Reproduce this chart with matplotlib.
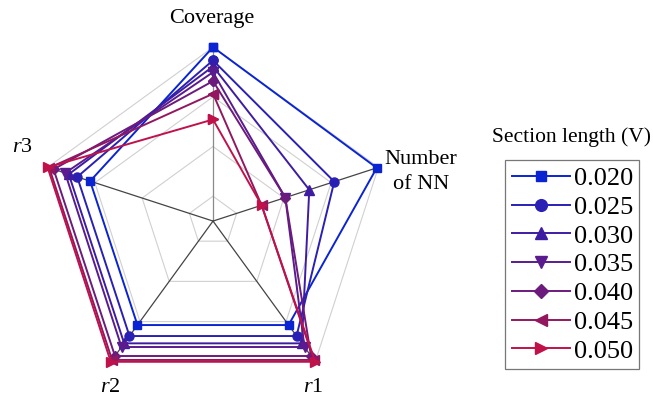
import numpy as np
import matplotlib
matplotlib.use('Agg')
import matplotlib.pyplot as plt

plt.rcParams['font.family'] = 'Liberation Serif'
plt.rcParams['mathtext.fontset'] = 'custom'
plt.rcParams['mathtext.it'] = 'Liberation Serif:italic'
plt.rcParams['mathtext.rm'] = 'Liberation Serif'

# Axes of the radar, clockwise from the top
axis_labels = ['Coverage', 'Number\nof NN', '$r$1', '$r$2', '$r$3']

# Normalised scores per section length
section_lengths = ['0.020', '0.025', '0.030', '0.035', '0.040', '0.045', '0.050']
coverage = [1.0, 0.924, 0.889, 0.856, 0.805, 0.732, 0.584]
number_nn = [0.99, 0.733, 0.582, 0.437, 0.437, 0.294, 0.294]
r1 = [0.739, 0.817, 0.869, 0.895, 0.959, 0.987, 1.0]
r2 = [0.739, 0.817, 0.869, 0.895, 0.959, 0.987, 1.0]
r3 = [0.743, 0.821, 0.872, 0.894, 0.964, 0.99, 1.0]

ring_levels = [1 / 7, 3 / 7, 5 / 7, 1.0]

colors = ['#0b24d2', '#2a20b4', '#3e1ca2', '#5a1b8e', '#6c1a7c', '#92175f', '#c0124a']
markers = ['s', 'o', '^', 'v', 'D', '<', '>']
msizes = [5.5, 6.5, 6.5, 6.5, 5.5, 6.5, 6.5]

n_axes = len(axis_labels)
theta = np.pi / 2 - np.arange(n_axes) * 2 * np.pi / n_axes
theta_closed = np.append(theta, theta[0])

fig = plt.figure(figsize=(6.53, 4.04), dpi=100)
ax = fig.add_axes([0.0597, 0.0223, 0.533, 0.861], projection='polar')
ax.set_ylim(0, 1)
ax.grid(False)
ax.set_xticks([])
ax.set_yticks([])
ax.spines['polar'].set_visible(False)
ax.patch.set_alpha(0)

# Pentagonal grid rings and spokes
for lev in ring_levels:
    ax.plot(theta_closed, [lev] * (n_axes + 1), color='#d0d0d0', lw=0.8, zorder=1)
for i, t in enumerate(theta):
    ax.plot([t, t], [0, 1], color='#8a8a8a' if i == 0 else '#444444', lw=0.9, zorder=1)

series = [coverage, number_nn, r1, r2, r3]
handles = []
for k, name in enumerate(section_lengths):
    vals = [s[k] for s in series]
    vals.append(vals[0])
    h, = ax.plot(theta_closed, vals, color=colors[k], lw=1.4, marker=markers[k],
                 ms=msizes[k], mfc=colors[k], mec=colors[k], zorder=3 + k, clip_on=False)
    handles.append(h)

# Axis captions
fig.text(212 / 653, 1 - 18 / 404, axis_labels[0], ha='center', va='center', fontsize=16)
fig.text(421 / 653, 1 - 172 / 404, axis_labels[1], ha='center', va='center', fontsize=16,
         linespacing=1.45)
fig.text(313 / 653, 1 - 388 / 404, axis_labels[2], ha='center', va='center', fontsize=16)
fig.text(110 / 653, 1 - 388 / 404, axis_labels[3], ha='center', va='center', fontsize=16)
fig.text(22 / 653, 1 - 147 / 404, axis_labels[4], ha='center', va='center', fontsize=16)

# Legend
fig.text(571 / 653, 1 - 137 / 404, 'Section length (V)', ha='center', va='center', fontsize=15.5)
leg = fig.legend(handles, section_lengths, loc='upper left',
                 bbox_to_anchor=(505 / 653, 1 - 160 / 404), fontsize=19,
                 frameon=True, fancybox=False, edgecolor='#555555',
                 handlelength=2.2, handletextpad=0.15, labelspacing=0.2,
                 borderpad=0.25, borderaxespad=0, markerscale=1.3)
leg.get_frame().set_linewidth(0.9)

fig.savefig('out.png', dpi=100)
